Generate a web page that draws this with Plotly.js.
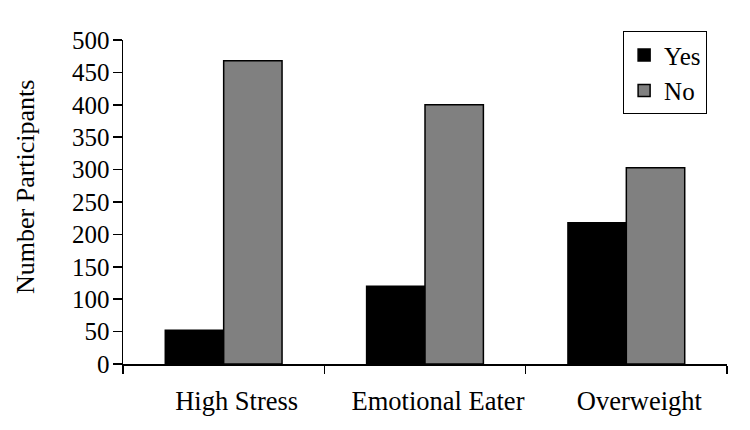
<!DOCTYPE html>
<html>
<head>
<meta charset="utf-8">
<script src="https://cdn.plot.ly/plotly-3.0.1.min.js"></script>
<style>html,body{margin:0;padding:0;background:#fff;}#chart{width:750px;height:430px;}</style>
</head>
<body>
<div id="chart"></div>
<script>
const categories = ["High Stress", "Emotional Eater", "Overweight"];
const yesValues = [52, 120, 218];
const noValues = [468, 400, 303];
const seriesNames = ["Yes", "No"];
const yTickValues = [0, 50, 100, 150, 200, 250, 300, 350, 400, 450, 500];
const yTitle = "Number Participants";

const FONT = "Liberation Serif, Times New Roman, serif";

const traces = [
  {
    type: "bar", name: seriesNames[0], x: categories, y: yesValues,
    marker: {color: "#000000", line: {color: "#000000", width: 1.5}},
    hoverinfo: "skip"
  },
  {
    type: "bar", name: seriesNames[1], x: categories, y: noValues,
    marker: {color: "#808080", line: {color: "#000000", width: 1.5}},
    hoverinfo: "skip"
  }
];

const layout = {
  width: 750, height: 430,
  margin: {l: 123, r: 23, t: 40, b: 66, pad: 0},
  paper_bgcolor: "#ffffff", plot_bgcolor: "#ffffff",
  font: {family: FONT, size: 25, color: "#000000"},
  barmode: "group",
  bargap: 0.42,
  bargroupgap: 0,
  showlegend: true,
  legend: {
    x: 0.828, y: 1.027, xanchor: "left", yanchor: "top",
    bordercolor: "#000000", borderwidth: 1, bgcolor: "#ffffff",
    font: {family: FONT, size: 25, color: "#000000"},
    tracegroupgap: 0, itemwidth: 30
  },
  xaxis: {
    type: "category",
    showline: true, linecolor: "#000000", linewidth: 1.5,
    ticks: "outside", ticklen: 8, tickcolor: "#000000", tickwidth: 1.5,
    tickson: "boundaries",
    showgrid: false, zeroline: false,
    tickfont: {family: FONT, size: 26.5, color: "#000000"},
    ticklabelstandoff: 13,
    ticklabelshift: 13
  },
  yaxis: {
    range: [0, 500],
    tickvals: yTickValues,
    ticktext: yTickValues.map(String),
    showline: true, linecolor: "#000000", linewidth: 1.5,
    ticks: "outside", ticklen: 9, tickcolor: "#000000", tickwidth: 1.5,
    showgrid: false, zeroline: false,
    tickfont: {family: FONT, size: 25, color: "#000000"},
    ticklabelstandoff: -2
  },
  annotations: [
    {
      text: yTitle, xref: "paper", yref: "paper",
      x: (25 - 123) / 604, y: (364 - 187) / 324,
      xanchor: "center", yanchor: "middle",
      textangle: -90, showarrow: false,
      font: {family: FONT, size: 26, color: "#000000"}
    }
  ]
};

Plotly.newPlot("chart", traces, layout, {staticPlot: true, displayModeBar: false});
</script>
</body>
</html>
